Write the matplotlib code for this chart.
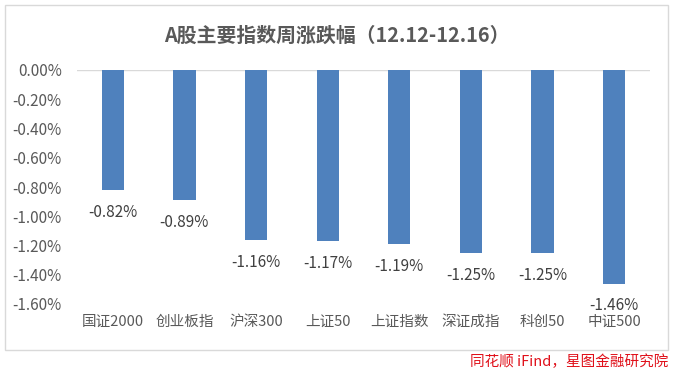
import matplotlib.pyplot as plt
from matplotlib.patches import Rectangle

plt.rcParams['font.family'] = ['Noto Sans CJK SC', 'DejaVu Sans']

categories = ['国证2000', '创业板指', '沪深300', '上证50', '上证指数', '深证成指', '科创50', '中证500']
changes = [-0.82, -0.89, -1.16, -1.17, -1.19, -1.25, -1.25, -1.46]
yticks = [0, -0.2, -0.4, -0.6, -0.8, -1.0, -1.2, -1.4, -1.6]

fig = plt.figure(figsize=(6.74, 3.72), dpi=100)
ax = fig.add_axes([77 / 674, 1 - 304 / 372, 573 / 674, 234 / 372])

# outer chart frame
fig.patches.append(Rectangle((5 / 674, 1 - 350 / 372), 663 / 674, 345 / 372,
                             transform=fig.transFigure, fill=False,
                             edgecolor='#d9d9d9', linewidth=1))

x = range(len(categories))
ax.bar(x, changes, width=0.31, color='#4f81bd', zorder=2)
for i, v in enumerate(changes):
    ax.annotate(f'{v:.2f}%', (i, v), xytext=(0, -10), textcoords='offset points',
                ha='center', va='top', fontsize=11, color='#404040')

ax.set_xlim(-0.5, len(categories) - 0.5)
ax.set_ylim(-1.6, 0)
ax.set_yticks(yticks)
ax.set_yticklabels([f'{t:.2f}%' for t in yticks], fontsize=11, color='#595959')
ax.axhline(0, color='#d9d9d9', linewidth=1, zorder=1)

ax.set_xticks(list(x))
ax.set_xticklabels(categories, fontsize=10.5, color='#595959')
ax.xaxis.tick_bottom()
ax.tick_params(axis='both', length=0)
ax.tick_params(axis='x', pad=8)
ax.tick_params(axis='y', pad=11)
for s in ax.spines.values():
    s.set_visible(False)

fig.text(337 / 674, 1 - 35 / 372, 'A股主要指数周涨跌幅（12.12-12.16）', ha='center', va='center',
         fontsize=14.3, fontweight='bold', color='#595959')
fig.text(668 / 674, 1 - 362 / 372, '同花顺 iFind，星图金融研究院', ha='right', va='center',
         fontsize=10.5, style='italic', color='#e0101a')

fig.savefig('out.png', dpi=100)
